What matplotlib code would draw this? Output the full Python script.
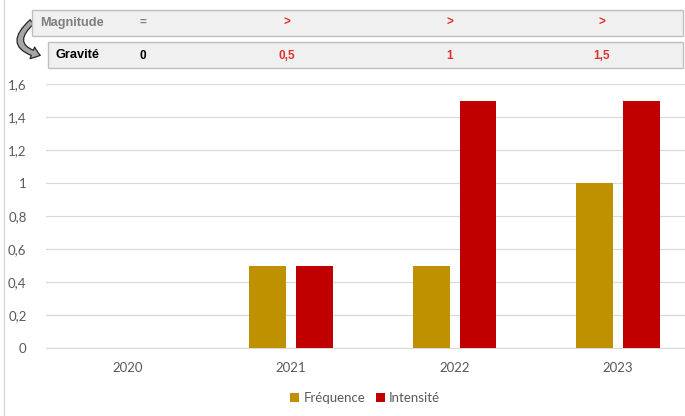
import matplotlib.pyplot as plt
from matplotlib.patches import Rectangle, FancyArrowPatch
import numpy as np

# data
years = ['2020', '2021', '2022', '2023']
frequence = [0, 0.5, 0.5, 1.0]
intensite = [0, 0.5, 1.5, 1.5]
yticks = [0, 0.2, 0.4, 0.6, 0.8, 1.0, 1.2, 1.4, 1.6]
ytick_labels = ['0', '0,2', '0,4', '0,6', '0,8', '1', '1,2', '1,4', '1,6']
magnitude_row = ['=', '>', '>', '>']
gravite_row = ['0', '0,5', '1', '1,5']

plt.rcParams['font.family'] = ['Lato', 'DejaVu Sans']

W, H = 685, 416
fig = plt.figure(figsize=(W / 100, H / 100), dpi=100)


def fx(px):
    return px / W


def fy(py):
    return 1 - py / H


# plot area
left, right, top, bottom = 46, 685, 84, 348
ax = fig.add_axes([fx(left), fy(bottom), fx(right - left), fy(top) - fy(bottom)])
x = np.arange(len(years))
bw = 0.224
off = 0.143
ax.bar(x - off, frequence, bw, color='#BF9000', label='Fréquence', zorder=3)
ax.bar(x + off, intensite, bw, color='#C00000', label='Intensité', zorder=3)
ax.set_xlim(-0.5, 3.41)
ax.set_ylim(0, 1.6)
ax.set_yticks(yticks)
ax.set_yticklabels(ytick_labels)
ax.set_xticks(x)
ax.set_xticklabels(years)
ax.yaxis.grid(True, color='#D9D9D9', linewidth=0.9, zorder=0)
for s in ['top', 'right', 'left']:
    ax.spines[s].set_visible(False)
ax.spines['bottom'].set_color('#D9D9D9')
ax.tick_params(axis='both', length=0, colors='#595959', labelsize=9.5)
ax.tick_params(axis='x', pad=10)
ax.tick_params(axis='y', pad=14)

fig.legend(loc='center', bbox_to_anchor=(fx(365), fy(398)), ncol=2, frameon=False,
           fontsize=9.5, handlelength=0.7, handleheight=0.7, handletextpad=0.3,
           columnspacing=0.8, labelcolor='#595959')

# left border line
fig.add_artist(plt.Line2D([fx(4), fx(4)], [0, 1], color='#D9D9D9', linewidth=1))

# curved arrow (behind the boxes)
arrow = FancyArrowPatch((fx(34), fy(20)), (fx(43), fy(56)), transform=fig.transFigure,
                        connectionstyle='arc3,rad=1.0',
                        arrowstyle='simple,head_width=9,head_length=6,tail_width=4',
                        facecolor='#A6A6A6', edgecolor='#262626', linewidth=0.9)
fig.add_artist(arrow)

# header boxes
fig.add_artist(Rectangle((fx(32), fy(36)), fx(683 - 32), fy(10) - fy(36),
                         facecolor='#F0F0F0', edgecolor='#BFBFBF', linewidth=1))
fig.add_artist(Rectangle((fx(48), fy(68)), fx(683 - 48), fy(42) - fy(68),
                         facecolor='#F0F0F0', edgecolor='#BFBFBF', linewidth=1))

fig.text(fx(40), fy(23), 'Magnitude', fontsize=9.2, fontweight='bold', color='#7F7F7F',
         va='center', family=['Liberation Sans'])
fig.text(fx(55), fy(55), 'Gravité', fontsize=9.2, fontweight='bold', color='black',
         va='center', family=['Liberation Sans'])
col_x = [143, 287, 450, 602]
for i, (m, g) in enumerate(zip(magnitude_row, gravite_row)):
    c = '#7F7F7F' if i == 0 else '#E03030'
    fig.text(fx(col_x[i]), fy(23), m, fontsize=8.5, fontweight='bold', color=c,
             ha='center', va='center', family=['Liberation Sans'])
    c = 'black' if i == 0 else '#E03030'
    fig.text(fx(col_x[i]), fy(56), g, fontsize=8.5, fontweight='bold', color=c,
             ha='center', va='center', family=['Liberation Sans'])

fig.savefig('out.png', dpi=100)
